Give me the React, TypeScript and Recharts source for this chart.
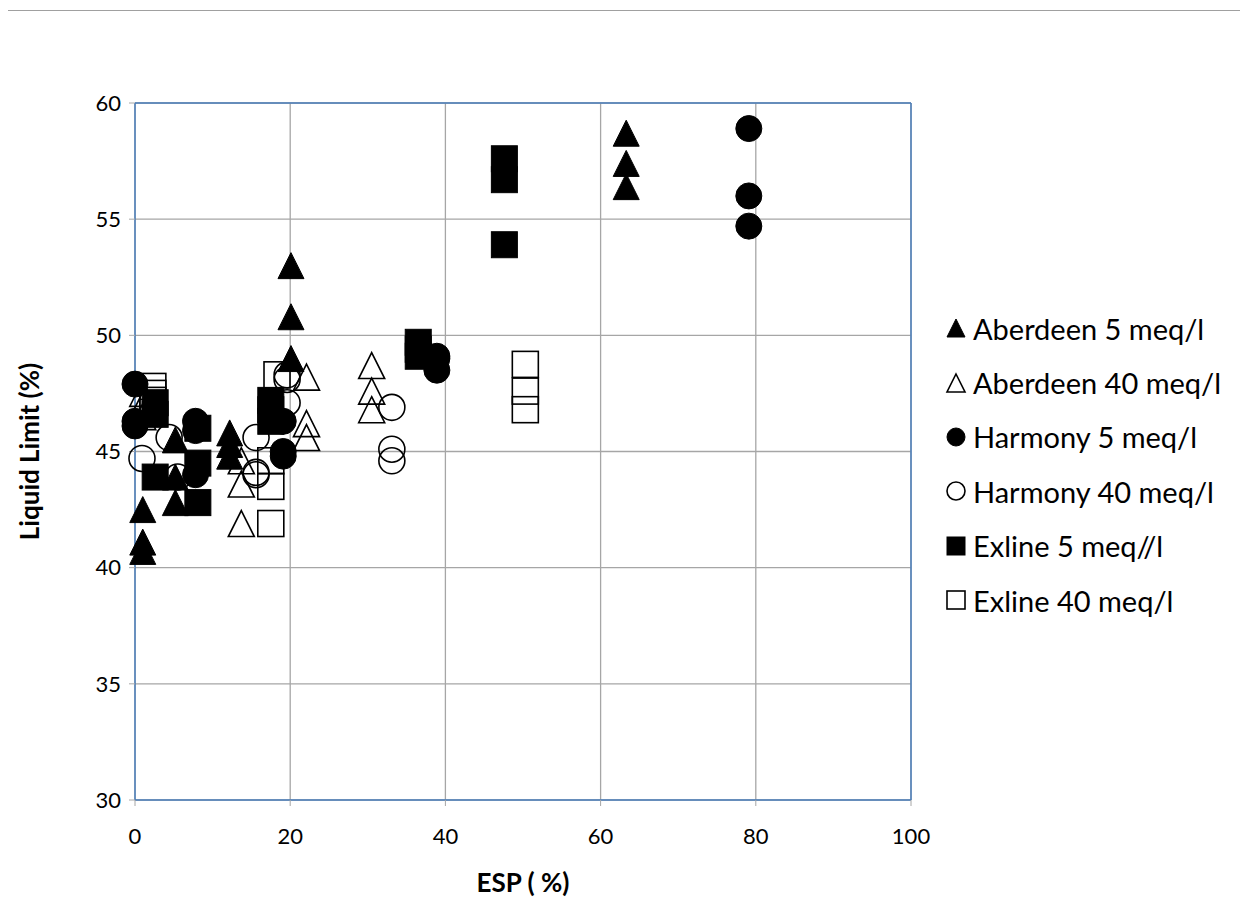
import {
  CartesianGrid,
  ReferenceLine,
  Scatter,
  ScatterChart,
  XAxis,
  YAxis,
} from "recharts";

// [ESP %, Liquid Limit %]
const aberdeen5 = [
  [1, 42.5], [1, 41.1], [1, 40.7],
  [5.2, 45.5], [5.2, 43.9], [5.2, 42.8],
  [12.2, 45.8], [12.2, 45.3], [12.2, 44.8],
  [20.1, 53.0], [20.1, 50.8], [20.1, 49.0],
  [63.3, 58.7], [63.3, 57.4], [63.3, 56.4],
];
const aberdeen40 = [
  [1, 47.5], [1, 47.0], [1, 46.5],
  [13.7, 44.6], [13.7, 43.6], [13.7, 41.9],
  [22.1, 48.2], [22.1, 46.2], [22.1, 45.6],
  [30.5, 48.7], [30.5, 47.6], [30.5, 46.8],
];
const harmony5 = [
  [0, 47.9], [0, 46.3], [0, 46.1],
  [7.8, 46.3], [7.8, 45.9], [7.8, 44.0],
  [19.1, 46.3], [19.1, 45.0], [19.1, 44.8],
  [38.9, 49.1], [38.9, 49.0], [38.9, 48.5],
  [79.1, 58.9], [79.1, 56.0], [79.1, 54.7],
];
const harmony40 = [
  [0.9, 44.7], [4.4, 45.6], [5.5, 43.9],
  [15.6, 45.6], [15.6, 44.0], [15.6, 44.1],
  [19.6, 48.1], [19.6, 47.1], [19.6, 48.3],
  [33.1, 46.9], [33.1, 45.1], [33.1, 44.6],
];
const exline5 = [
  [2.6, 47.1], [2.6, 46.6], [2.6, 43.9],
  [8.1, 46.0], [8.1, 44.5], [8.1, 42.8],
  [17.5, 47.2], [17.5, 46.8], [17.5, 46.3],
  [36.5, 49.7], [36.5, 49.4], [36.5, 49.1],
  [47.6, 57.6], [47.6, 56.7], [47.6, 53.9],
];
const exline40 = [
  [2.3, 47.8], [2.3, 47.5], [2.3, 47.2],
  [17.5, 44.6], [17.5, 43.5], [17.5, 41.9],
  [18.3, 48.3],
  [50.3, 48.75], [50.3, 47.6], [50.3, 46.8],
];

const xTicks = [0, 20, 40, 60, 80, 100];
const yTicks = [30, 35, 40, 45, 50, 55, 60];

const BLUE = "#4a7ebb";
const GRID = "#a6a6a6";
const FONT = "Lato, 'Open Sans', sans-serif";

type Kind = "triangle" | "circle" | "square";

const series: { name: string; data: number[][]; kind: Kind; filled: boolean }[] = [
  { name: "Aberdeen 5 meq/l", data: aberdeen5, kind: "triangle", filled: true },
  { name: "Aberdeen 40 meq/l", data: aberdeen40, kind: "triangle", filled: false },
  { name: "Harmony 5 meq/l", data: harmony5, kind: "circle", filled: true },
  { name: "Harmony 40 meq/l", data: harmony40, kind: "circle", filled: false },
  { name: "Exline 5 meq//l", data: exline5, kind: "square", filled: true },
  { name: "Exline 40 meq/l", data: exline40, kind: "square", filled: false },
];

function glyph(kind: Kind, filled: boolean, cx: number, cy: number, s: number) {
  const fill = filled ? "#000" : "none";
  const sw = filled ? 1 : 1.6;
  const h = s / 2;
  if (kind === "circle")
    return <circle cx={cx} cy={cy} r={h} fill={fill} stroke="#000" strokeWidth={sw} />;
  if (kind === "square")
    return <rect x={cx - h} y={cy - h} width={s} height={s} fill={fill} stroke="#000" strokeWidth={sw} />;
  return (
    <polygon
      points={`${cx},${cy - h} ${cx + h},${cy + h} ${cx - h},${cy + h}`}
      fill={fill}
      stroke="#000"
      strokeWidth={sw}
    />
  );
}

const makeShape = (kind: Kind, filled: boolean) => (props: any) =>
  glyph(kind, filled, props.cx, props.cy, 26);

function LegendBox() {
  return (
    <div
      style={{
        position: "absolute",
        left: 937,
        top: 293,
        fontFamily: FONT,
        fontSize: 29,
        color: "#000",
      }}
    >
      {series.map((s) => (
        <div key={s.name} style={{ display: "flex", alignItems: "center", height: 54.4 }}>
          <svg width={22} height={22} style={{ marginRight: 6 }}>
            {glyph(s.kind, s.filled, 11, 11, 18)}
          </svg>
          <span style={{ whiteSpace: "nowrap" }}>{s.name}</span>
        </div>
      ))}
    </div>
  );
}

export default function App() {
  return (
    <div style={{ position: "relative", width: 1232, height: 893 }}>
      <ScatterChart
        width={1232}
        height={893}
        margin={{ top: 95, right: 329, bottom: 21, left: 52 }}
      >
        <CartesianGrid stroke={GRID} strokeWidth={1.3} />
        <XAxis
          type="number"
          dataKey="x"
          domain={[0, 100]}
          ticks={xTicks}
          height={80}
          axisLine={{ stroke: BLUE, strokeWidth: 1.5 }}
          tickLine={{ stroke: GRID }}
          tickSize={6}
          tick={{ fill: "#000", fontSize: 22, fontFamily: FONT }}
          tickMargin={22}
          label={{
            value: "ESP ( %)",
            position: "insideBottom",
            offset: -12,
            fill: "#000",
            fontSize: 26,
            fontWeight: 700,
            fontFamily: FONT,
          }}
        />
        <YAxis
          type="number"
          dataKey="y"
          domain={[30, 60]}
          ticks={yTicks}
          width={75}
          axisLine={{ stroke: BLUE, strokeWidth: 1.5 }}
          tickLine={{ stroke: GRID }}
          tickSize={6}
          tick={{ fill: "#000", fontSize: 22, fontFamily: FONT }}
          tickMargin={8}
          label={{
            value: "Liquid Limit (%)",
            angle: -90,
            position: "insideLeft",
            offset: -30,
            style: { textAnchor: "middle" },
            fill: "#000",
            fontSize: 26,
            fontWeight: 700,
            fontFamily: FONT,
          }}
        />
        <ReferenceLine y={60} stroke={BLUE} strokeWidth={1.5} />
        <ReferenceLine x={100} stroke={BLUE} strokeWidth={1.5} />
        {series.map((s) => (
          <Scatter
            key={s.name}
            name={s.name}
            data={s.data.map(([x, y]) => ({ x, y }))}
            shape={makeShape(s.kind, s.filled)}
            isAnimationActive={false}
          />
        ))}
      </ScatterChart>
      <LegendBox />
      <div style={{ position: "absolute", left: -4, top: 2, width: 1240, height: 1, background: "#a0a0a0" }} />
      <div style={{ position: "absolute", left: -4, top: 2, width: 1, height: 900, background: "#a0a0a0" }} />
    </div>
  );
}
